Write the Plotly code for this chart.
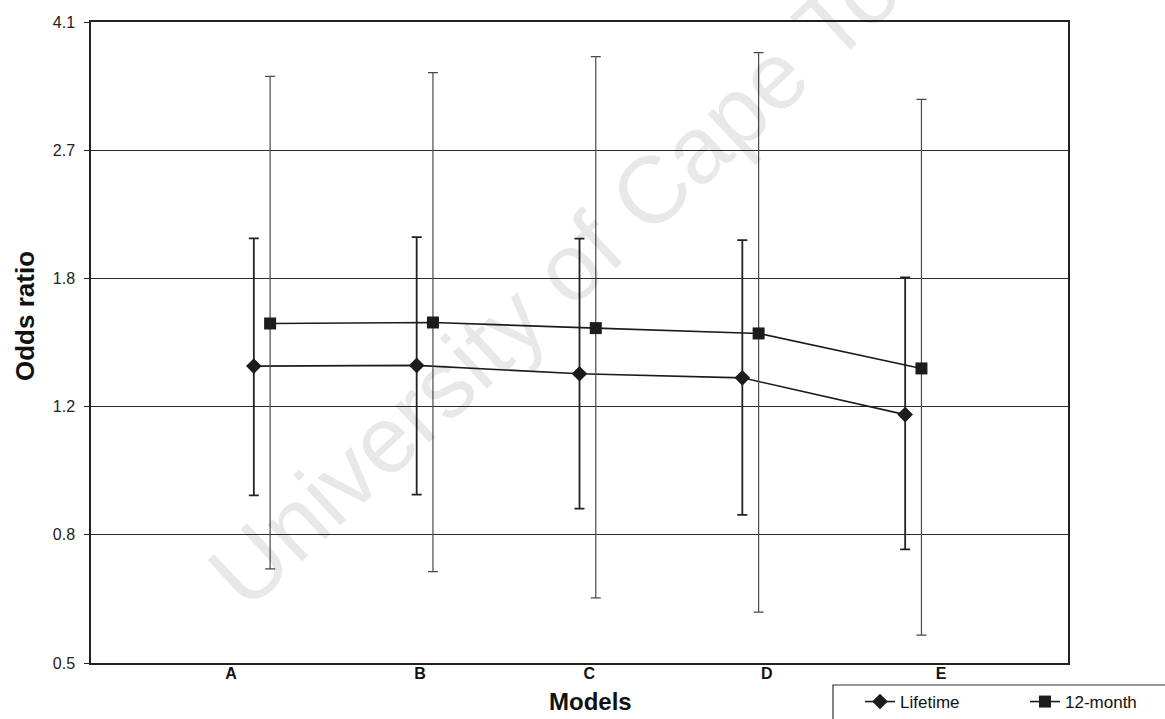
import math
import plotly.graph_objects as go

# Odds ratios (with 95% CI) by model, for lifetime and 12-month outcomes
models = ["A", "B", "C", "D", "E"]

lifetime_or = [1.325, 1.328, 1.292, 1.275, 1.130]
lifetime_lo = [0.867, 0.869, 0.830, 0.813, 0.726]
lifetime_hi = [2.015, 2.024, 2.013, 2.004, 1.773]

month12_or = [1.524, 1.529, 1.501, 1.475, 1.315]
month12_lo = [0.681, 0.675, 0.619, 0.591, 0.548]
month12_hi = [3.430, 3.472, 3.660, 3.708, 3.181]

y_tick_text = ["0.5", "0.8", "1.2", "1.8", "2.7", "4.1"]

# ---- layout geometry (pixels) ----
W, H = 1165, 719
L, R, T, B = 91, 97, 22, 56
plot_w = W - L - R
plot_h = H - T - B


def px_x(px):
    return (px - L) / plot_w


def px_y(py):
    return (H - B - py) / plot_h


# log axis: ticks on a geometric progression from 0.5 to 4.1
y_min, y_max = 0.5, 4.1
ratio = (y_max / y_min) ** (1 / 5)
y_tick_vals = [y_min * ratio ** k for k in range(6)]

x_lifetime = [i + 1 for i in range(len(models))]
x_month12 = [i + 1.1 for i in range(len(models))]
label_pos = [0.86, 2.02, 3.06, 4.15, 5.22]

FONT = "Liberation Sans, Arial, sans-serif"
INK = "#1c1c1c"

fig = go.Figure()

fig.add_trace(go.Scatter(
    x=x_lifetime, y=lifetime_or, name="Lifetime",
    mode="lines+markers",
    line=dict(color=INK, width=1.6),
    marker=dict(symbol="diamond", size=12, color=INK),
    error_y=dict(type="data", symmetric=False,
                 array=[h - v for h, v in zip(lifetime_hi, lifetime_or)],
                 arrayminus=[v - l for v, l in zip(lifetime_or, lifetime_lo)],
                 color="#222222", thickness=1.8, width=5),
))

fig.add_trace(go.Scatter(
    x=x_month12, y=month12_or, name="12-month",
    mode="lines+markers",
    line=dict(color=INK, width=1.6),
    marker=dict(symbol="square", size=12, color=INK),
    error_y=dict(type="data", symmetric=False,
                 array=[h - v for h, v in zip(month12_hi, month12_or)],
                 arrayminus=[v - l for v, l in zip(month12_or, month12_lo)],
                 color="#4a4a4a", thickness=1.2, width=5),
))

fig.update_xaxes(
    range=[0, 6], showgrid=False, zeroline=False,
    showline=True, linecolor="#222222", linewidth=1.5, mirror=True,
    tickmode="array", tickvals=label_pos, ticktext=models,
    ticks="", ticklabelstandoff=-5,
    tickfont=dict(family=FONT, size=16, color="#111111", weight="bold"),
)

fig.update_yaxes(
    type="log", range=[math.log10(y_min), math.log10(y_max)],
    tickmode="array", tickvals=y_tick_vals, ticktext=y_tick_text,
    showgrid=True, gridcolor="#2a2a2a", gridwidth=1,
    showline=True, linecolor="#222222", linewidth=1.5, mirror=True,
    ticks="outside", ticklen=5, tickcolor="#222222",
    ticklabelstandoff=6,
    tickfont=dict(family=FONT, size=16, color="#222222"),
    zeroline=False,
)

annotations = [
    dict(text="Odds ratio", xref="paper", yref="paper",
         x=px_x(25), y=px_y(316), xanchor="center", yanchor="middle",
         showarrow=False, textangle=-90,
         font=dict(family=FONT, size=26, color="#111111", weight="bold")),
    dict(text="Models", xref="paper", yref="paper",
         x=px_x(590), y=px_y(701), xanchor="center", yanchor="middle",
         showarrow=False,
         font=dict(family=FONT, size=24, color="#111111", weight="bold")),
    dict(text="University of Cape Town", xref="paper", yref="paper",
         x=px_x(598), y=px_y(240), showarrow=False, textangle=-43,
         font=dict(family=FONT, size=95, color="rgba(0,0,0,0.09)")),
]

shapes = [
    dict(type="rect", xref="paper", yref="paper",
         x0=px_x(833), x1=px_x(1175), y0=px_y(730), y1=px_y(685),
         line=dict(color="#333333", width=1.2), fillcolor="white", layer="below"),
]

fig.update_layout(
    width=W, height=H,
    margin=dict(l=L, r=R, t=T, b=B, autoexpand=False),
    paper_bgcolor="white", plot_bgcolor="white",
    showlegend=True,
    legend=dict(orientation="h", x=px_x(860), y=px_y(702),
                xanchor="left", yanchor="middle",
                bgcolor="rgba(0,0,0,0)", borderwidth=0,
                entrywidth=120, entrywidthmode="pixels",
                font=dict(family=FONT, size=17, color="#111111")),
    annotations=annotations,
    shapes=shapes,
)

fig.write_html("out.html")
